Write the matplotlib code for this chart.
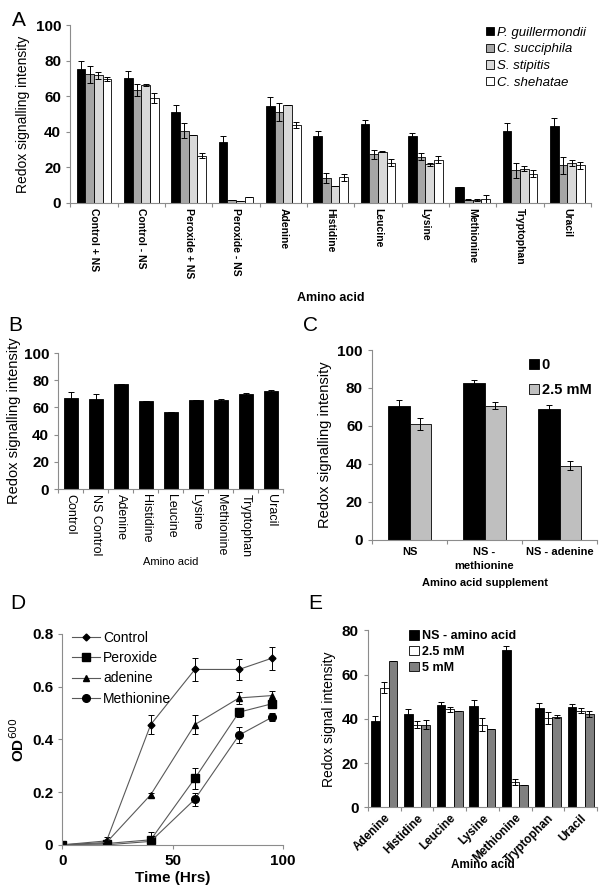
import numpy as np
import matplotlib.pyplot as plt

plt.rcParams['font.family'] = ['Liberation Sans', 'DejaVu Sans']
plt.rcParams['axes.linewidth'] = 0.8

# ---- Panel A data ----
a_cats = ['Control + NS', 'Control - NS', 'Peroxide + NS', 'Peroxide - NS', 'Adenine',
          'Histidine', 'Leucine', 'Lysine', 'Methionine', 'Tryptophan', 'Uracil']
a_names = ['P. guillermondii', 'C. succiphila', 'S. stipitis', 'C. shehatae']
a_pg = [75.1, 70.4, 51.3, 34.5, 54.5, 37.6, 44.2, 37.6, 9.0, 40.6, 43.4]
a_pg_err = [4.5, 3.6, 3.9, 3.2, 5.0, 3.0, 2.4, 1.9, 0, 4.1, 4.1]
a_cs = [72.3, 63.7, 40.6, 1.9, 51.3, 14.0, 27.3, 26.0, 1.9, 18.4, 21.2]
a_cs_err = [4.7, 3.4, 4.2, 0, 5.0, 2.8, 2.4, 2.0, 0.5, 4.3, 4.7]
a_ss = [71.7, 66.1, 38.4, 1.1, 55.2, 9.4, 28.8, 21.7, 1.5, 19.3, 22.7]
a_ss_err = [1.9, 0.6, 0, 0, 0, 0, 0.4, 0.7, 0.6, 1.3, 1.7]
a_ch = [69.8, 59.2, 26.6, 3.4, 43.8, 14.4, 22.7, 24.2, 2.1, 16.5, 21.2]
a_ch_err = [1.0, 2.8, 1.5, 0, 1.9, 1.9, 2.0, 2.0, 2.2, 1.9, 2.0]

# ---- Panel B data ----
b_cats = ['Control', 'NS Control', 'Adenine', 'Histidine', 'Leucine', 'Lysine',
          'Methionine', 'Tryptophan', 'Uracil']
b_vals = [67.0, 66.5, 77.5, 65.0, 56.5, 65.5, 65.5, 69.8, 71.8]
b_err = [4.5, 3.5, 0, 0, 0, 0, 0.4, 0.5, 1.0]

# ---- Panel C data ----
c_cats = ['NS', 'NS -\nmethionine', 'NS - adenine']
c_names = ['0', '2.5 mM']
c_zero = [70.5, 82.5, 69.1]
c_zero_err = [3.2, 1.7, 1.9]
c_25 = [60.9, 70.7, 39.1]
c_25_err = [3.1, 1.7, 2.4]

# ---- Panel D data ----
d_time = [0, 20, 40, 60, 80, 95]
d_control = [0, 0.015, 0.456, 0.665, 0.665, 0.708]
d_control_err = [0, 0.015, 0.037, 0.043, 0.039, 0.044]
d_perox = [0, 0.005, 0.019, 0.252, 0.503, 0.535]
d_perox_err = [0, 0.005, 0.03, 0.04, 0.017, 0.01]
d_aden = [0, 0.009, 0.19, 0.456, 0.557, 0.566]
d_aden_err = [0, 0.005, 0.008, 0.037, 0.024, 0.018]
d_meth = [0, 0.0, 0.013, 0.173, 0.416, 0.484]
d_meth_err = [0, 0, 0.005, 0.025, 0.029, 0.015]

# ---- Panel E data ----
e_cats = ['Adenine', 'Histidine', 'Leucine', 'Lysine', 'Methionine', 'Tryptophan', 'Uracil']
e_names = ['NS - amino acid', '2.5 mM', '5 mM']
e_ns = [39.1, 42.1, 46.3, 45.7, 71.1, 44.7, 45.4]
e_ns_err = [2.3, 2.3, 1.2, 2.7, 2.0, 2.4, 1.2]
e_25 = [54.1, 37.4, 44.2, 37.4, 11.4, 40.2, 43.6]
e_25_err = [2.6, 1.7, 1.2, 2.9, 1.2, 2.7, 1.2]
e_5 = [66.2, 37.4, 43.3, 35.2, 9.9, 40.9, 42.1]
e_5_err = [0, 2.0, 0, 0, 0, 0.6, 1.4]


def excel_axes(ax):
    for s in ['top', 'right']:
        ax.spines[s].set_visible(False)
    for s in ['left', 'bottom']:
        ax.spines[s].set_color('#8c8c8c')
    ax.tick_params(colors='#8c8c8c', labelcolor='black', length=3, width=0.8)


def grouped_bars(ax, cats, series, errs, colors, width, labels=None):
    x = np.arange(len(cats))
    n = len(series)
    for i in range(n):
        off = (i - (n - 1) / 2) * width
        ax.bar(x + off, series[i], width, color=colors[i], edgecolor='black', lw=0.6,
               yerr=errs[i], capsize=2.2, label=None if labels is None else labels[i],
               error_kw=dict(elinewidth=0.7, capthick=0.7, ecolor='black'))
    ax.set_xlim(-0.5, len(cats) - 0.5)
    # category boundaries get the tick marks, labels sit in the middle
    ax.set_xticks(np.arange(len(cats) + 1) - 0.5)
    ax.set_xticklabels([])
    ax.set_xticks(x, minor=True)
    ax.tick_params(axis='x', which='minor', length=0)
    excel_axes(ax)


def bold_yticks(ax, size=11):
    ax.tick_params(axis='y', labelsize=size)
    for t in ax.get_yticklabels():
        t.set_fontweight('bold')


fig = plt.figure(figsize=(6, 8.94), dpi=100)

# ===== A =====
axA = fig.add_axes([0.117, 0.773, 0.868, 0.199])
grouped_bars(axA, a_cats, [a_pg, a_cs, a_ss, a_ch], [a_pg_err, a_cs_err, a_ss_err, a_ch_err],
             ['black', '#a6a6a6', '#d9d9d9', 'white'], 0.183, a_names)
axA.set_xticklabels(a_cats, minor=True, rotation=270, fontsize=7.5, fontweight='bold', va='top')
axA.set_ylim(0, 100)
axA.set_yticks(range(0, 101, 20))
bold_yticks(axA)
axA.set_ylabel('Redox signalling intensity', fontsize=10)
axA.set_xlabel('Amino acid', fontsize=9, fontweight='bold', labelpad=10)
axA.legend(loc='upper right', bbox_to_anchor=(1.0, 1.02), frameon=False,
           prop={'style': 'italic', 'size': 9.5}, handlelength=0.6, handleheight=0.6,
           handletextpad=0.2, labelspacing=0.35, borderaxespad=0)
fig.text(0.02, 0.988, 'A', fontsize=15, va='top')

# ===== B =====
axB = fig.add_axes([0.097, 0.453, 0.375, 0.152])
grouped_bars(axB, b_cats, [b_vals], [b_err], ['black'], 0.55)
axB.set_xticklabels(b_cats, minor=True, rotation=270, fontsize=9, va='top')
axB.set_ylim(0, 100)
axB.set_yticks(range(0, 101, 20))
bold_yticks(axB)
axB.set_ylabel('Redox signalling intensity', fontsize=10.5, labelpad=2)
axB.set_xlabel('Amino acid', fontsize=8, labelpad=0)
fig.text(0.013, 0.646, 'B', fontsize=15, va='top')

# ===== C =====
axC = fig.add_axes([0.62, 0.396, 0.375, 0.2125])
grouped_bars(axC, c_cats, [c_zero, c_25], [c_zero_err, c_25_err], ['black', '#bfbfbf'], 0.29, c_names)
axC.set_xticklabels(c_cats, minor=True, fontsize=8, fontweight='bold', va='top', linespacing=1.5)
axC.tick_params(axis='x', which='minor', pad=5)
axC.set_ylim(0, 100)
axC.set_yticks(range(0, 101, 20))
bold_yticks(axC)
axC.set_ylabel('Redox signalling intensity', fontsize=10.5)
axC.set_xlabel('Amino acid supplement', fontsize=8, fontweight='bold', labelpad=5)
axC.legend(loc='upper left', bbox_to_anchor=(0.67, 0.99), frameon=False,
           prop={'weight': 'bold', 'size': 10.5}, handlelength=0.7, handleheight=0.7,
           handletextpad=0.2, labelspacing=0.8, borderaxespad=0)
fig.text(0.505, 0.646, 'C', fontsize=15, va='top')

# ===== D =====
axD = fig.add_axes([0.104, 0.055, 0.368, 0.236])
d_series = [(d_control, d_control_err, 'D', 3.5, 'Control'),
            (d_perox, d_perox_err, 's', 5.5, 'Peroxide'),
            (d_aden, d_aden_err, '^', 5, 'adenine'),
            (d_meth, d_meth_err, 'o', 5.5, 'Methionine')]
d_lines = []
for vals, err, mk, ms, lab in d_series:
    cont = axD.errorbar(d_time, vals, yerr=err, color='#595959', lw=0.8, marker=mk, ms=ms,
                        mfc='black', mec='black', ecolor='black', elinewidth=0.7, capsize=2.5,
                        capthick=0.7, label=lab)
    d_lines.append(cont[0])
axD.set_xlim(0, 100)
axD.set_ylim(0, 0.8)
axD.set_xticks([0, 50, 100])
axD.set_yticks([0, 0.2, 0.4, 0.6, 0.8])
axD.set_yticklabels(['0', '0.2', '0.4', '0.6', '0.8'])
excel_axes(axD)
axD.tick_params(labelsize=11)
for t in axD.get_xticklabels() + axD.get_yticklabels():
    t.set_fontweight('bold')
axD.set_ylabel('OD$^{600}$', fontsize=11, fontweight='bold')
axD.set_xlabel('Time (Hrs)', fontsize=11, fontweight='bold', labelpad=2)
axD.legend(d_lines, [s[4] for s in d_series], loc='upper left', bbox_to_anchor=(0.02, 1.04),
           frameon=False, fontsize=10, handlelength=2.0, handletextpad=0.2,
           labelspacing=0.45, borderaxespad=0)
fig.text(0.017, 0.336, 'D', fontsize=15, va='top')

# ===== E =====
axE = fig.add_axes([0.613, 0.097, 0.382, 0.198])
grouped_bars(axE, e_cats, [e_ns, e_25, e_5], [e_ns_err, e_25_err, e_5_err],
             ['black', 'white', '#808080'], 0.265, e_names)
axE.set_xticklabels(e_cats, minor=True, rotation=45, fontsize=8.5, fontweight='bold',
                    ha='right', rotation_mode='anchor')
axE.set_ylim(0, 80)
axE.set_yticks(range(0, 81, 20))
bold_yticks(axE)
axE.set_ylabel('Redox signal intensity', fontsize=10)
axE.set_xlabel('Amino acid', fontsize=8.5, fontweight='bold', labelpad=-5)
axE.legend(loc='upper left', bbox_to_anchor=(0.16, 1.03), frameon=False,
           prop={'weight': 'bold', 'size': 9}, handlelength=0.8, handleheight=0.8,
           handletextpad=0.2, labelspacing=0.3, borderaxespad=0)
fig.text(0.513, 0.336, 'E', fontsize=15, va='top')

fig.savefig('out.png', dpi=100)
